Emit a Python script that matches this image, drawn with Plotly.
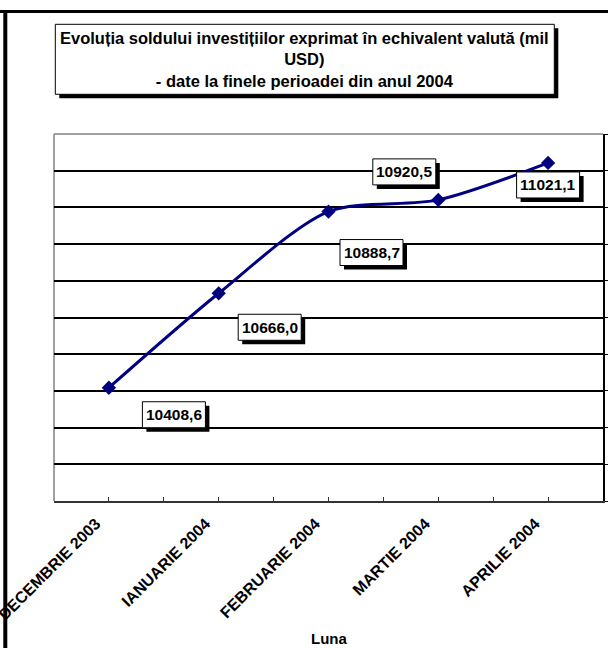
import plotly.graph_objects as go

# ---- data ----
months = ["DECEMBRIE 2003", "IANUARIE 2004", "FEBRUARIE 2004", "MARTIE 2004", "APRILIE 2004"]
values = [10408.6, 10666.0, 10888.7, 10920.5, 11021.1]
value_labels = ["10408,6", "10666,0", "10888,7", "10920,5", "11021,1"]
title_lines = ["Evoluția soldului investițiilor exprimat în echivalent valută (mil",
               "USD)",
               "- date la finele perioadei din anul 2004"]
x_title = "Luna"

# ---- layout geometry (pixels) ----
W, H = 608, 648
L, R, T, B = 54, 5, 134, 147
PW, PH = W - L - R, H - T - B

def px(xp):
    return (xp - L) / PW

def py(yp):
    return (H - B - yp) / PH

FONT = "Liberation Sans, Arial, sans-serif"
NAVY = "#000080"
SH = 4  # shadow offset

xs = list(range(len(months)))

fig = go.Figure()
fig.add_trace(go.Scatter(
    x=xs, y=values, mode="lines+markers",
    line=dict(color=NAVY, width=3, shape="spline", smoothing=0.8),
    marker=dict(symbol="diamond", size=11, color=NAVY),
    hoverinfo="skip", showlegend=False,
))

# label offsets (pixels, y up) relative to each point, and box size
label_offsets = [(65, -27), (51, -34), (43, -41), (-34, 28), (0, -22)]
BW, BH = 63, 26

annotations = []
shapes = []
for xi, v, lab, (dx, dy) in zip(xs, values, value_labels, label_offsets):
    shapes.append(dict(
        type="rect", xref="x", yref="y", xsizemode="pixel", ysizemode="pixel",
        xanchor=xi, yanchor=v,
        x0=dx - BW / 2 + SH, x1=dx + BW / 2 + SH, y0=dy - BH / 2 - SH, y1=dy + BH / 2 - SH,
        fillcolor="black", line=dict(width=0), layer="above",
    ))
    shapes.append(dict(
        type="rect", xref="x", yref="y", xsizemode="pixel", ysizemode="pixel",
        xanchor=xi, yanchor=v,
        x0=dx - BW / 2, x1=dx + BW / 2, y0=dy - BH / 2, y1=dy + BH / 2,
        fillcolor="white", line=dict(color="black", width=1), layer="above",
    ))
    annotations.append(dict(
        x=xi, y=v, xref="x", yref="y", text=lab, showarrow=False,
        xshift=dx, yshift=dy, xanchor="center", yanchor="middle",
        font=dict(family=FONT, size=15.5, color="black", weight="bold"),
    ))

# title box
tx0, tx1, ty0, ty1 = 55.3, 554.3, 24.3, 94.3
shapes.append(dict(type="rect", xref="paper", yref="paper",
                   x0=px(tx0 + SH), x1=px(tx1 + SH), y0=py(ty1 + SH), y1=py(ty0 + SH),
                   fillcolor="black", line=dict(width=0), layer="above"))
shapes.append(dict(type="rect", xref="paper", yref="paper",
                   x0=px(tx0), x1=px(tx1), y0=py(ty1), y1=py(ty0),
                   fillcolor="white", line=dict(color="black", width=1), layer="above"))
annotations.append(dict(
    x=px((tx0 + tx1) / 2), y=py((ty0 + ty1) / 2), xref="paper", yref="paper",
    text="<br>".join(title_lines),
    showarrow=False, align="center", xanchor="center", yanchor="middle",
    font=dict(family=FONT, size=16.5, color="black", weight="bold"),
))
annotations.append(dict(
    x=px(328.5), y=py(638.5), xref="paper", yref="paper", text=x_title,
    showarrow=False, xanchor="center", yanchor="middle",
    font=dict(family=FONT, size=15, color="black", weight="bold"),
))

shapes += [
    # plot-area border (left/top gray)
    dict(type="line", xref="paper", yref="paper", x0=0, x1=0, y0=0, y1=1,
         line=dict(color="#808080", width=1.5), layer="below"),
    dict(type="line", xref="paper", yref="paper", x0=0, x1=1, y0=1, y1=1,
         line=dict(color="#808080", width=1.5), layer="below"),
    # page frame
    dict(type="line", xref="paper", yref="paper", x0=px(0), x1=px(W), y0=py(11.5), y1=py(11.5),
         line=dict(color="black", width=3)),
    dict(type="line", xref="paper", yref="paper", x0=px(5.3), x1=px(5.3), y0=py(10), y1=py(H),
         line=dict(color="black", width=4)),
]

fig.update_layout(
    width=W, height=H,
    margin=dict(l=L, r=R, t=T, b=B, pad=0),
    paper_bgcolor="white", plot_bgcolor="white",
    font=dict(family=FONT, color="black"),
    annotations=annotations, shapes=shapes,
    xaxis=dict(
        range=[-0.5, len(months) - 0.5], tickvals=xs, ticktext=months,
        tickangle=-45, tickfont=dict(family=FONT, size=16, color="black", weight="bold"),
        ticklabelshift=-13, ticklabelstandoff=5, ticklabeloverflow="allow",
        ticks="inside", ticklen=4, tickcolor="#333", tickwidth=1,
        minor=dict(dtick=0.5, tick0=-0.5, ticks="inside", ticklen=4, tickcolor="#333", showgrid=False),
        showgrid=False, zeroline=False, showline=True, linecolor="#333", linewidth=2,
        automargin=False, fixedrange=True,
    ),
    yaxis=dict(
        range=[10100, 11100], dtick=100, side="right",
        showgrid=True, gridcolor="black", gridwidth=1.5,
        showline=True, linecolor="black", linewidth=2,
        ticks="outside", ticklen=5, tickcolor="black",
        showticklabels=False, zeroline=False, automargin=False, fixedrange=True,
    ),
)

fig.write_html("out.html", post_script="document.body.style.margin='0';",
               config={"displayModeBar": False})
